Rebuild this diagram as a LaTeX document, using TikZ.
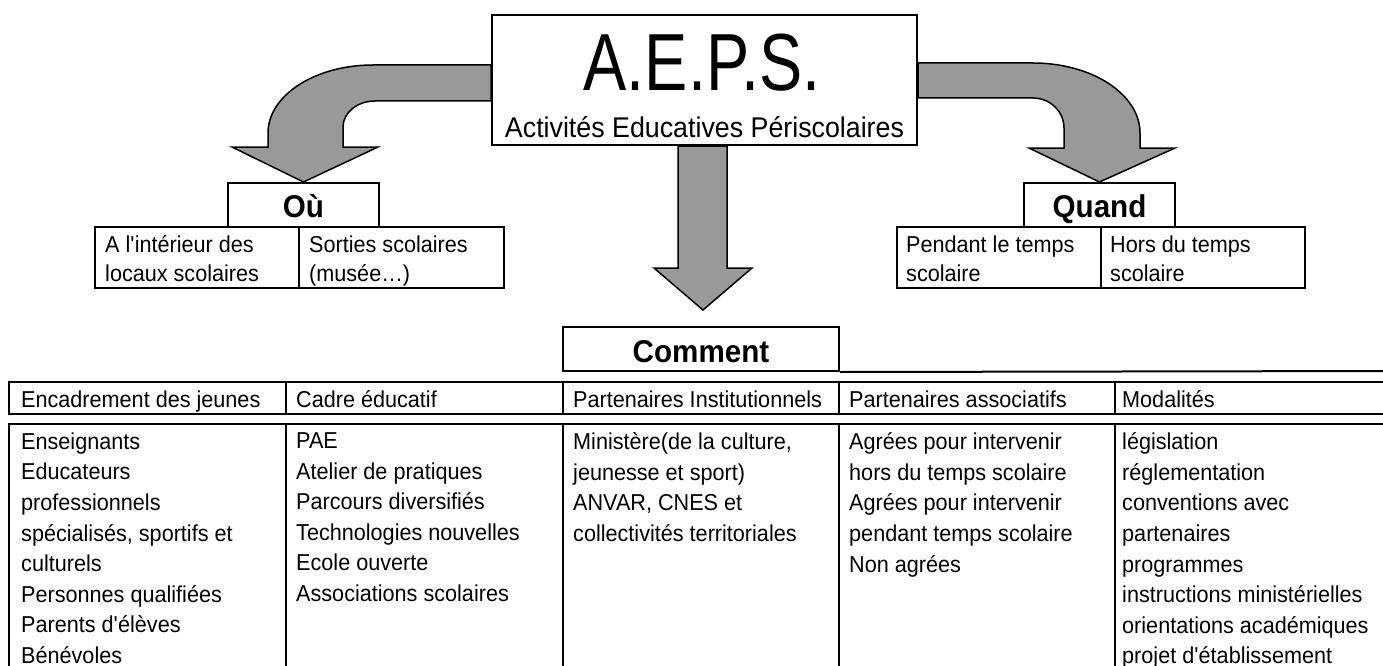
\documentclass[tikz,border=0pt]{standalone}
\usepackage{fontspec}
\setmainfont{Liberation Sans}[FakeStretch=0.94]
\newfontfamily\siglefont{Liberation Sans}[FakeStretch=0.8]
\usepackage{tikz}

\definecolor{flechegris}{RGB}{153,153,153}

\begin{document}
\begin{tikzpicture}[
    x=1pt, y=-1pt,
    every node/.style={inner sep=0pt},
    cadre/.style={draw, line width=2pt},
    fleche/.style={draw, line width=1.5pt, fill=flechegris, line join=miter},
    entete/.style={anchor=base, font=\fontsize{31.5}{36}\selectfont\bfseries},
    texte/.style={anchor=north west, align=left, font=\fontsize{23}{29}\selectfont},
    colonne/.style={anchor=north west, align=left, font=\fontsize{23}{30.6}\selectfont}
]
\useasboundingbox (0,0) rectangle (1383,666);
\clip (0,0) rectangle (1383,666);

% boite centrale
\node[cadre, minimum width=425pt, minimum height=130pt] (aeps) at (704.5,80) {};
\node[anchor=base, font=\siglefont\fontsize{81}{90}\selectfont] (sigle) at (702,91) {A.E.P.S.};
\node[anchor=base, font=\fontsize{28.5}{32}\selectfont] (intitule) at (704.5,137) {Activités Educatives Périscolaires};

% Où
\node[cadre, minimum width=151pt, minimum height=44pt] (ou) at (303.5,205) {};
\node[entete] at (303.5,217) {Où};
\node[cadre, minimum width=204pt, minimum height=61pt] (ouInt) at (197,257.5) {};
\node[cadre, minimum width=205pt, minimum height=61pt] (ouSort) at (401.5,257.5) {};
\node[texte] at (105,235.5) {A l\textquotesingle intérieur des\\locaux scolaires};
\node[texte] at (309,235.5) {Sorties scolaires\\(musée…)};

% Quand
\node[cadre, minimum width=151pt, minimum height=44pt] (quand) at (1099.5,205) {};
\node[entete] at (1099.5,217) {Quand};
\node[cadre, minimum width=204pt, minimum height=61pt] (quandPend) at (999,257.5) {};
\node[cadre, minimum width=204pt, minimum height=61pt] (quandHors) at (1203,257.5) {};
\node[texte] at (906,235.5) {Pendant le temps\\scolaire};
\node[texte] at (1110,235.5) {Hors du temps\\scolaire};

% Comment
\node[cadre, minimum width=276pt, minimum height=44pt] (comment) at (701,349) {};
\node[entete] at (701,362) {Comment};
\draw[cadre] (comment.south east) -- (1400,371);

% fleches
\draw[fleche] (aeps.west |- 0,65) -- (373,65)
    arc[start angle=270, end angle=180, x radius=105, y radius=68]
    -- (268,147) -- (232,147) -- (ou.north) -- (378,147) -- (343,147) -- (343,127)
    arc[start angle=180, end angle=270, x radius=32, y radius=26]
    -- (aeps.west |- 0,101) -- cycle;
\draw[fleche] (aeps.east |- 0,63) -- (1033,63)
    arc[start angle=270, end angle=360, x radius=107, y radius=70]
    -- (1140,148) -- (1175,148) -- (quand.north) -- (1029,148) -- (1064,148) -- (1064,128)
    arc[start angle=0, end angle=-90, x radius=31, y radius=30]
    -- (aeps.east |- 0,98) -- cycle;
\draw[fleche] (aeps.south -| 678,0) -- (678,268) -- (654,268) -- (703,310)
    -- (752,268) -- (727,268) -- (aeps.south -| 727,0) -- cycle;

% tableau
\draw[cadre] (9,382) rectangle (1400,414);
\draw[cadre] (9,424) rectangle (1400,700);
\foreach \x in {286,563,839,1115}
    \draw[cadre] (\x,382) -- (\x,414) (\x,424) -- (\x,700);

\node[colonne, anchor=base west] (h1) at (21,407) {Encadrement des jeunes};
\node[colonne, anchor=base west] (h2) at (296,407) {Cadre éducatif};
\node[colonne, anchor=base west] (h3) at (573,407) {Partenaires Institutionnels};
\node[colonne, anchor=base west] (h4) at (849,407) {Partenaires associatifs};
\node[colonne, anchor=base west] (h5) at (1122,407) {Modalités};

\node[colonne] (c1) at (21,432.5) {Enseignants\\Educateurs\\professionnels\\spécialisés, sportifs et\\culturels\\Personnes qualifiées\\Parents d\textquotesingle élèves\\Bénévoles};
\node[colonne] (c2) at (296,432.5) {PAE\\Atelier de pratiques\\Parcours diversifiés\\Technologies nouvelles\\Ecole ouverte\\Associations scolaires};
\node[colonne] (c3) at (573,432.5) {Ministère(de la culture,\\jeunesse et sport)\\ANVAR, CNES et\\collectivités territoriales};
\node[colonne] (c4) at (849,432.5) {Agrées pour intervenir\\hors du temps scolaire\\Agrées pour intervenir\\pendant temps scolaire\\Non agrées};
\node[colonne] (c5) at (1122,432.5) {législation\\réglementation\\conventions avec\\partenaires\\programmes\\instructions ministérielles\\orientations académiques\\projet d\textquotesingle établissement};
\end{tikzpicture}
\end{document}
